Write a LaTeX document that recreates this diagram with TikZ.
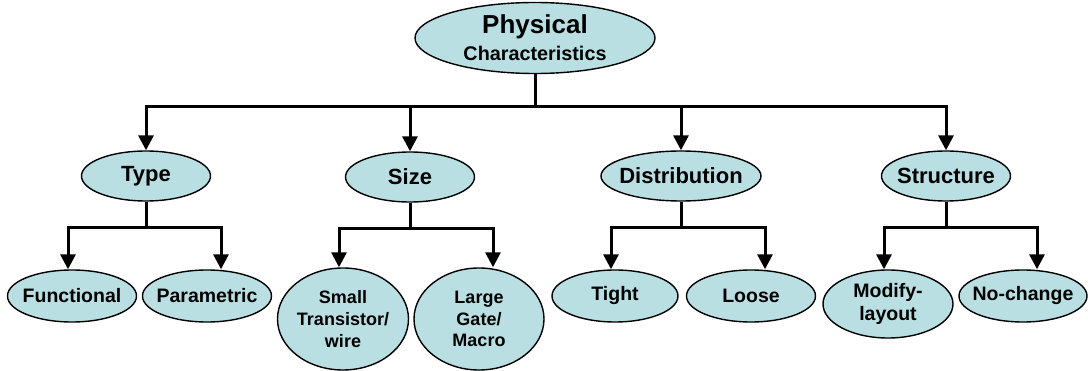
\documentclass[tikz,border=0pt]{standalone}
\usepackage{fontspec}
\setmainfont{Liberation Sans}
\usetikzlibrary{shapes.geometric,arrows.meta}

\definecolor{bubblefill}{RGB}{185,223,227}

\tikzset{
    bubble/.style={ellipse, draw=black, line width=1.4pt, fill=bubblefill,
        inner xsep=-20pt, inner ysep=0pt, align=center},
    leaf/.style={bubble, minimum width=129, minimum height=52,
        font=\fontsize{19.5}{23}\selectfont\bfseries},
    branch/.style={bubble, minimum height=50,
        font=\fontsize{22}{24}\selectfont\bfseries},
    link/.style={line width=3pt, -{Triangle[width=15pt,length=15pt]}},
}

\begin{document}
\begin{tikzpicture}[x=1pt,y=-1pt]
    \useasboundingbox (0,0) rectangle (1088,371);

    % Root
    \node[bubble, minimum width=240, minimum height=71,
        font=\fontsize{19.8}{27}\selectfont\bfseries] (phys) at (535,38)
        {{\fontsize{26}{27}\selectfont Physical}\\Characteristics};
    \coordinate (rootbar) at (535,107);

    % Second level
    \node[branch, minimum width=129] (typ)   at (146,176) {Type};
    \node[branch, minimum width=129] (size)  at (410,177) {Size};
    \node[branch, minimum width=160] (dist)  at (681,176) {Distribution};
    \node[branch, minimum width=129] (struc) at (946,176) {Structure};

    % Leaves
    \node[leaf] (func)     at (72,296)   {Functional};
    \node[leaf] (param)    at (207,296)  {Parametric};
    \node[leaf, minimum width=131, minimum height=102,
        font=\fontsize{18}{21.7}\selectfont\bfseries] (small) at (343,319)
        {Small\\Transistor/\\wire};
    \node[leaf, minimum width=130, minimum height=102,
        font=\fontsize{18}{21.7}\selectfont\bfseries] (large) at (479,319)
        {Large\\Gate/\\Macro};
    \node[leaf, minimum width=126] (tight) at (615,296)  {Tight};
    \node[leaf] (loose)    at (751,296)  {Loose};
    \node[leaf, minimum width=130, minimum height=68] (modify) at (888,304)
        {Modify-\\layout};
    \node[leaf, minimum width=128] (nochange) at (1023,296) {No-change};

    % Connectors from the root
    \foreach \c in {typ, size, dist, struc}
        \draw[link] (phys.south) -- (rootbar) -| (\c.north);

    % Connectors to the leaves
    \foreach \p/\l/\r in {typ/func/param, size/small/large,
                          dist/tight/loose, struc/modify/nochange} {
        \draw[link] (\p.south) -- ++(0,26) -| ([xshift=-4]\l.north);
        \draw[link] (\p.south) -- ++(0,26) -| ([xshift=14]\r.north);
    }
\end{tikzpicture}
\end{document}
